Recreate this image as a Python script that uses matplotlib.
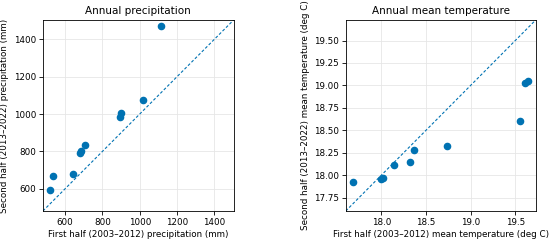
import numpy as np
import matplotlib.pyplot as plt

# precipitation (mm), first half vs second half
precip_first = [518, 532, 643, 680, 686, 704, 896, 900, 1020, 1114]
precip_second = [595, 667, 677, 789, 801, 832, 985, 1003, 1075, 1472]

# mean temperature (deg C)
temp_first = [17.68, 18.00, 18.02, 18.14, 18.32, 18.37, 18.73, 19.55, 19.61, 19.64]
temp_second = [17.92, 17.96, 17.97, 18.115, 18.145, 18.277, 18.322, 18.608, 19.03, 19.052]

precip_lim = (480, 1505)
temp_lim = (17.6, 19.73)

color = '#0072b2'
plt.rcParams['font.size'] = 6.3

fig = plt.figure(figsize=(5.5, 2.41), dpi=100)
ax1 = fig.add_axes([0.078, 0.1245, 0.347, 0.793])
ax2 = fig.add_axes([0.6286, 0.1245, 0.3456, 0.793])

ax1.scatter(precip_first, precip_second, s=20, color=color, zorder=3)
ax1.plot(precip_lim, precip_lim, '--', color=color, lw=0.8, dashes=(2.6, 1.8))
ax1.set_xlim(precip_lim)
ax1.set_ylim(precip_lim)
ax1.set_xticks([600, 800, 1000, 1200, 1400])
ax1.set_yticks([600, 800, 1000, 1200, 1400])
ax1.set_title("Annual precipitation", fontsize=7.5, pad=4)
ax1.set_xlabel("First half (2003–2012) precipitation (mm)", labelpad=2)
ax1.set_ylabel("Second half (2013–2022) precipitation (mm)", labelpad=3)
ax1.grid(True, color='#e6e6e6', lw=0.6)

ax2.scatter(temp_first, temp_second, s=20, color=color, zorder=3)
ax2.plot(temp_lim, temp_lim, '--', color=color, lw=0.8, dashes=(2.6, 1.8))
ax2.set_xlim(temp_lim)
ax2.set_ylim(temp_lim)
ax2.set_xticks([18.0, 18.5, 19.0, 19.5])
ax2.set_yticks([17.75, 18.0, 18.25, 18.5, 18.75, 19.0, 19.25, 19.5])
ax2.yaxis.set_major_formatter(plt.FormatStrFormatter('%.2f'))
ax2.set_title("Annual mean temperature", fontsize=7.5, pad=4)
ax2.set_xlabel("First half (2003–2012) mean temperature (deg C)", labelpad=2)
ax2.set_ylabel("Second half (2013–2022) mean temperature (deg C)", labelpad=3)
ax2.grid(True, color='#e6e6e6', lw=0.6)

for ax in (ax1, ax2):
    ax.tick_params(length=3, width=0.6, pad=2)
    for sp in ax.spines.values():
        sp.set_linewidth(0.6)

fig.savefig("out.png", dpi=100)
